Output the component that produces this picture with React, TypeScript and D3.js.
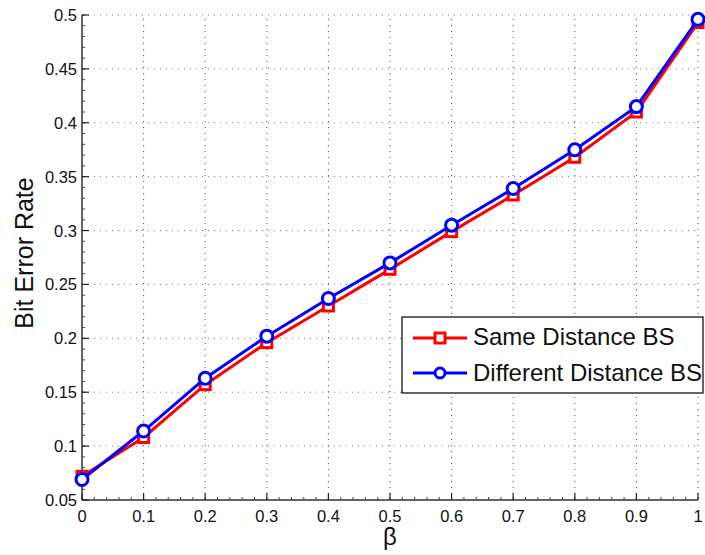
import React from "react";
import * as d3 from "d3";

const betaValues = [0, 0.1, 0.2, 0.3, 0.4, 0.5, 0.6, 0.7, 0.8, 0.9, 1];
const sameDistance = [0.072, 0.108, 0.157, 0.196, 0.230, 0.264, 0.299, 0.333, 0.368, 0.410, 0.493];
const differentDistance = [0.069, 0.114, 0.163, 0.202, 0.237, 0.270, 0.305, 0.339, 0.375, 0.415, 0.496];
const xTicks = [0, 0.1, 0.2, 0.3, 0.4, 0.5, 0.6, 0.7, 0.8, 0.9, 1];
const yTicks = [0.05, 0.1, 0.15, 0.2, 0.25, 0.3, 0.35, 0.4, 0.45, 0.5];
const seriesNames = ["Same Distance BS", "Different Distance BS"];

const W = 705, H = 555;
const L = 82, R = 698, T = 15, B = 500;
const FONT = "'Liberation Sans', Arial, Helvetica, sans-serif";

export default function App() {
  const x = d3.scaleLinear().domain([0, 1]).range([L, R]);
  const y = d3.scaleLinear().domain([0.05, 0.5]).range([B, T]);
  const line = d3.line<number>().x((_, i) => x(betaValues[i])).y((d) => y(d));
  const xMinor = d3.range(0, 1.0001, 0.02);
  const yMinor = d3.range(0.05, 0.5001, 0.01);

  return (
    <svg width={W} height={H} style={{ position: "absolute", left: 0, top: 0, background: "#fff" }}>
      {/* grid */}
      {xTicks.slice(1).map((t) => (
        <line key={"gx" + t} x1={x(t)} x2={x(t)} y1={B} y2={T} stroke="#000" strokeWidth={1} strokeDasharray="1,5" opacity={0.7} />
      ))}
      {yTicks.slice(1).map((t) => (
        <line key={"gy" + t} x1={L} x2={R} y1={y(t)} y2={y(t)} stroke="#777" strokeWidth={1} strokeDasharray="1,5" />
      ))}
      {/* axes */}
      <line x1={L} x2={R} y1={B} y2={B} stroke="#333" strokeWidth={1.5} />
      <line x1={L} x2={L} y1={B} y2={T} stroke="#333" strokeWidth={1.5} />
      {xMinor.map((t, i) => (
        <line key={"xm" + i} x1={x(t)} x2={x(t)} y1={B} y2={B - 3} stroke="#444" strokeWidth={1} />
      ))}
      {yMinor.map((t, i) => (
        <line key={"ym" + i} x1={L} x2={L + 3} y1={y(t)} y2={y(t)} stroke="#444" strokeWidth={1} />
      ))}
      {xTicks.map((t) => (
        <g key={"xt" + t}>
          <line x1={x(t)} x2={x(t)} y1={B} y2={B - 7} stroke="#222" strokeWidth={1.2} />
          <text x={x(t)} y={B + 22} textAnchor="middle" fontFamily={FONT} fontSize={16.5} fill="#111">{String(t)}</text>
        </g>
      ))}
      {yTicks.map((t) => (
        <g key={"yt" + t}>
          <line x1={L} x2={L + 7} y1={y(t)} y2={y(t)} stroke="#222" strokeWidth={1.2} />
          <text x={L - 5} y={y(t) + 6} textAnchor="end" fontFamily={FONT} fontSize={16.5} fill="#111">{String(+t.toFixed(2))}</text>
        </g>
      ))}
      {/* series */}
      <path d={line(sameDistance) || ""} fill="none" stroke="#ff0000" strokeWidth={3} />
      {sameDistance.map((v, i) => (
        <rect key={"s" + i} x={x(betaValues[i]) - 5} y={y(v) - 5} width={10} height={10} fill="#fff" stroke="#ff0000" strokeWidth={3} />
      ))}
      <path d={line(differentDistance) || ""} fill="none" stroke="#0000ff" strokeWidth={3} />
      {differentDistance.map((v, i) => (
        <circle key={"d" + i} cx={x(betaValues[i])} cy={y(v)} r={6} fill="#fff" stroke="#0000ff" strokeWidth={3} />
      ))}
      {/* legend */}
      <rect x={402} y={317} width={301} height={76} fill="#fff" stroke="#000" strokeWidth={1.2} />
      <line x1={413} x2={467} y1={338} y2={338} stroke="#ff0000" strokeWidth={3} />
      <rect x={435} y={333} width={10} height={10} fill="#fff" stroke="#ff0000" strokeWidth={3} />
      <text x={473} y={345} fontFamily={FONT} fontSize={24} fill="#111">{seriesNames[0]}</text>
      <line x1={413} x2={467} y1={373} y2={373} stroke="#0000ff" strokeWidth={3} />
      <circle cx={440} cy={373} r={5} fill="#fff" stroke="#0000ff" strokeWidth={3} />
      <text x={473} y={381} fontFamily={FONT} fontSize={24} fill="#111">{seriesNames[1]}</text>
      {/* axis labels */}
      <text x={390} y={545} textAnchor="middle" fontFamily={FONT} fontSize={24} fill="#111">β</text>
      <text transform={`translate(33,253) rotate(-90)`} textAnchor="middle" fontFamily={FONT} fontSize={25} fill="#111">Bit Error Rate</text>
    </svg>
  );
}
